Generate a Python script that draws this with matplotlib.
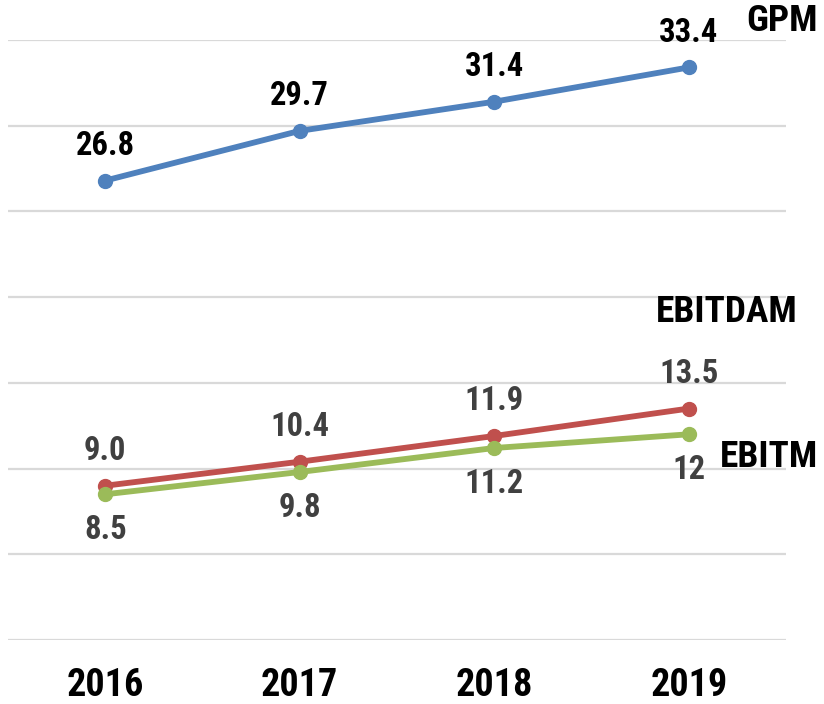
import matplotlib.pyplot as plt
from matplotlib import font_manager

years = ["2016", "2017", "2018", "2019"]
gpm = [26.8, 29.7, 31.4, 33.4]
ebitdam = [9.0, 10.4, 11.9, 13.5]
ebitm = [8.5, 9.8, 11.2, 12.0]
gpm_labels = ["26.8", "29.7", "31.4", "33.4"]
ebitdam_labels = ["9.0", "10.4", "11.9", "13.5"]
ebitm_labels = ["8.5", "9.8", "11.2", "12"]

# narrow bold face if one is installed, else Liberation Sans
names = {f.name for f in font_manager.fontManager.ttflist}
family = 'Liberation Sans'
for cand in ['Liberation Sans Narrow', 'Roboto Condensed', 'Open Sans Condensed',
             'DejaVu Sans Condensed']:
    if cand in names:
        family = cand
        break
narrow = family != 'Liberation Sans'
plt.rcParams['font.family'] = [family, 'DejaVu Sans']
k = 1.12 if narrow else 1.0

W, H = 824, 704
fig = plt.figure(figsize=(W / 100, H / 100), dpi=100)
ax = fig.add_axes([8 / W, (H - 640) / H, (786 - 8) / W, 600 / H])

x = list(range(len(years)))
series = [
    (gpm, gpm_labels, '#4F81BD', 'black', 25),
    (ebitdam, ebitdam_labels, '#C0504D', '#404040', 25),
    (ebitm, ebitm_labels, '#9BBB59', '#404040', -26),
]
for vals, labels, color, tcolor, dy in series:
    ax.plot(x, vals, color=color, lw=4.2, marker='o', ms=10, zorder=3)
    for xi, v, lab in zip(x, vals, labels):
        ax.annotate(lab, (xi, v), xytext=(0, dy), textcoords='offset points',
                    ha='center', va='center', fontsize=21 * k, fontweight='bold',
                    color=tcolor)

ax.set_xlim(-0.5, 3.5)
ax.set_ylim(0, 35)
ax.set_yticks(range(0, 36, 5))
ax.yaxis.grid(True, color='#d9d9d9', lw=1.6)
ax.set_axisbelow(True)
ax.tick_params(axis='y', left=False, labelleft=False)
ax.set_xticks(x)
ax.set_xticklabels([])
ax.tick_params(axis='x', length=0, pad=0)
for xi, yr in zip(x, years):
    ax.annotate(yr, (xi, 0), xytext=(0, -46), textcoords='offset pixels',
                ha='center', va='center', fontsize=24.5 * k, fontweight='bold',
                annotation_clip=False)
for s in ax.spines.values():
    s.set_visible(False)

# series names
fig.text(818 / W, 1 - 21 / H, "GPM", ha='right', va='center',
         fontsize=24 * k, fontweight='bold')
fig.text(727 / W, 1 - 312 / H, "EBITDAM", ha='center', va='center',
         fontsize=24 * k, fontweight='bold')
fig.text(818 / W, 1 - 457 / H, "EBITM", ha='right', va='center',
         fontsize=24 * k, fontweight='bold')

fig.savefig("out.png", dpi=100)
